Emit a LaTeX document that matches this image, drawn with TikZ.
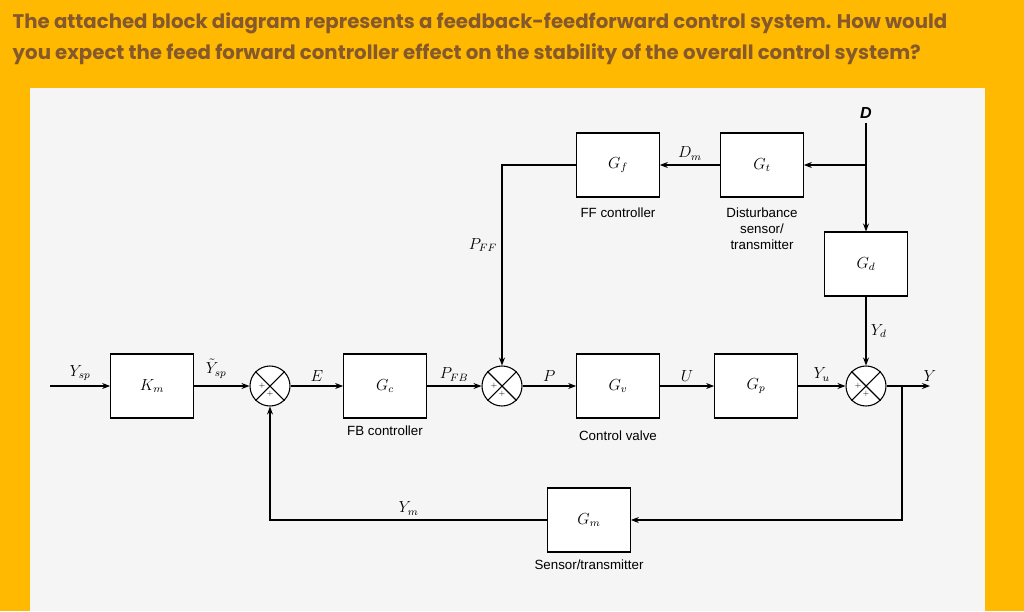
\documentclass[tikz,border=0pt]{standalone}
\usepackage{fontspec}
\setmainfont{Liberation Sans}
\newfontfamily\headfont{Poppins}
\usetikzlibrary{positioning,arrows.meta}
\tikzset{
    block/.style={
           rectangle,
           draw=black, thick,
           fill=white,
           minimum width=62pt,
           minimum height=48pt,
           font=\itshape\large,
           },
    summer/.style={circle, draw=black, thick, fill=white, minimum size=30pt, inner sep=0pt},
    lbl/.style={font=\normalsize},
    sig/.style={font=\itshape\large},
    link/.style={thick, -{Stealth[length=6pt]}},
}
\newcommand{\crossin}[1]{% cross and plus signs in a summing junction
    \draw[thick] (#1.north west) -- (#1.south east) (#1.north east) -- (#1.south west);
    \node[font=\tiny] at ([xshift=-6pt]#1.center) {$+$};
    \node[font=\tiny] at ([yshift=-6pt]#1.center) {$+$};
}
\begin{document}
\begin{tikzpicture}[x=0.75pt,y=-0.75pt]
    % background of the photo
    \fill[orange!55!yellow] (0,0) rectangle (1024,611);
    \fill[gray!8] (30,88) rectangle (985,611);
    \useasboundingbox (0,0) rectangle (1024,611);

    % question text
    \node[font=\headfont\bfseries\fontsize{14.8}{23}\selectfont, text=brown!70!black,
          anchor=north west, align=left] (ask) at (8,8)
    {The attached block diagram represents a feedback-feedforward control system. How would\\
     you expect the feed forward controller effect on the stability of the overall control system?};

    % blocks of the loop
    \node[block] (km) at (152,386) {$K_m$};
    \node[summer] (s1) at (270,386) {};
    \node[block] (gc) at (385,386) {$G_c$};
    \node[summer] (s2) at (502,386) {};
    \node[block] (gv) at (618,386) {$G_v$};
    \node[block] (gp) at (756,386) {$G_p$};
    \node[summer] (s3) at (866,386) {};
    \node[block] (gd) at (866,264) {$G_d$};
    \node[block] (gf) at (618,165) {$G_f$};
    \node[block] (gt) at (762,165) {$G_t$};
    \node[block] (gm) at (589,520) {$G_m$};
    \crossin{s1} \crossin{s2} \crossin{s3}

    % free ends
    \coordinate (in) at (50,386);
    \coordinate (out) at (930,386);
    \node[sig, font=\bfseries\itshape\large] (d) at (866,113) {D};
    \coordinate (tap) at (866,165);
    \coordinate (ret) at (902,386);

    % forward path
    \draw[link] (in) -- node[sig, above] {$Y_{sp}$} (km);
    \draw[link] (km) -- node[sig, above=2pt, pos=0.4] {$\tilde Y_{sp}$} (s1);
    \draw[link] (s1) -- node[sig, above] {$E$} (gc);
    \draw[link] (gc) -- node[sig, above] {$P_{FB}$} (s2);
    \draw[link] (s2) -- node[sig, above] {$P$} (gv);
    \draw[link] (gv) -- node[sig, above] {$U$} (gp);
    \draw[link] (gp) -- node[sig, above] {$Y_u$} (s3);
    \draw[link] (s3) -- (out) node[sig, above] {$Y$};

    % disturbance and feedforward
    \draw[link] (d) -- (gd);
    \draw[link] (tap) -- (gt);
    \draw[link] (gt) -- node[sig, above] {$D_m$} (gf);
    \draw[link] (gf.west) -| node[sig, pos=0.7, left] {$P_{FF}$} (s2);
    \draw[link] (gd) -- node[sig, right] {$Y_d$} (s3);

    % feedback
    \draw[link] (ret) |- (gm);
    \draw[link] (gm.west) -| node[sig, pos=0.25, above] {$Y_m$} (s1);

    % captions
    \node[lbl, below=4pt of gf] {FF controller};
    \node[lbl, below=4pt of gt, align=center] {Disturbance\\sensor/\\transmitter};
    \node[lbl, below=2pt of gc] {FB controller};
    \node[lbl, below=6pt of gv] {Control valve};
    \node[lbl, below=2pt of gm] {Sensor/transmitter};
\end{tikzpicture}
\end{document}
